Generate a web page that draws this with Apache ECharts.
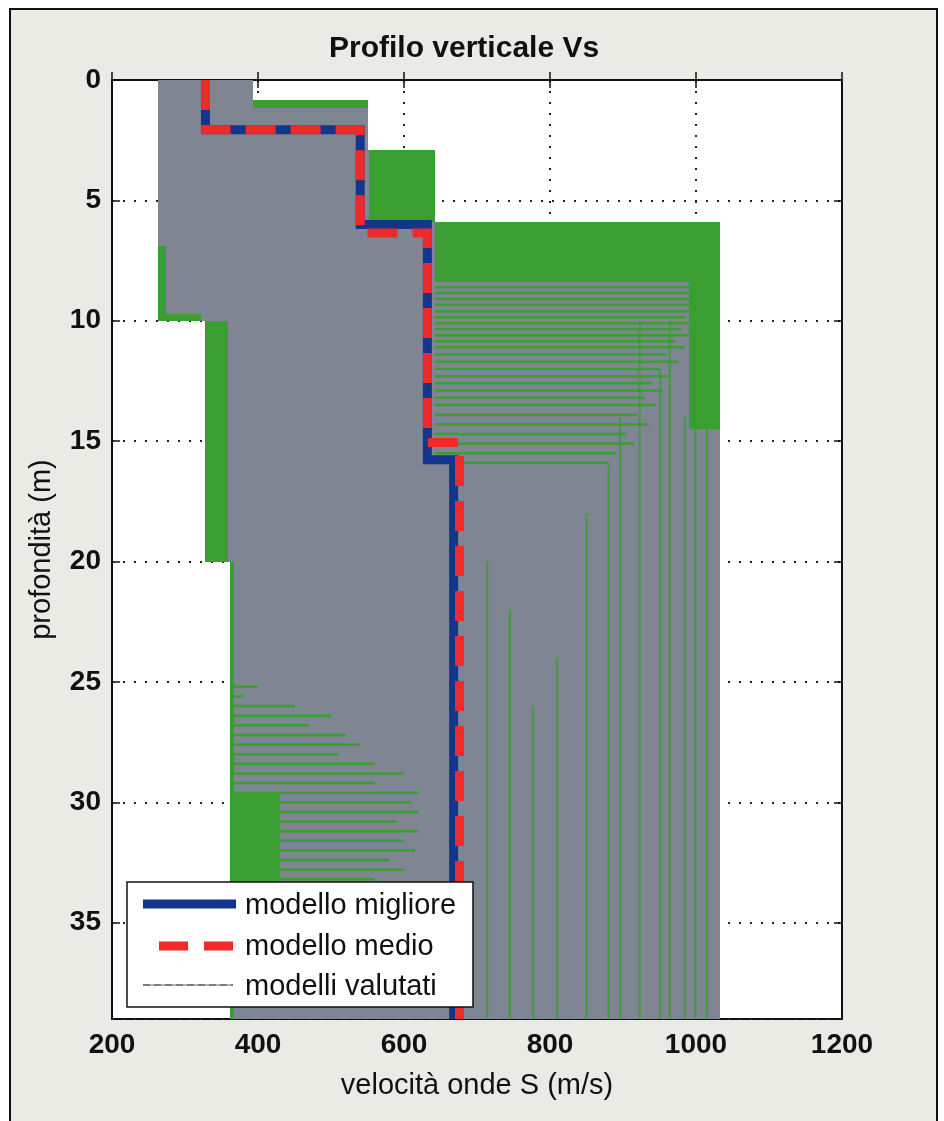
<!DOCTYPE html>
<html>
<head>
<meta charset="utf-8">
<script src="https://cdn.jsdelivr.net/npm/echarts@6/dist/echarts.min.js"></script>
<style>
  html, body { margin: 0; padding: 0; background: #ffffff; }
  #wrap { position: relative; width: 944px; height: 1121px; overflow: hidden; }
  #frame { position: absolute; left: 9px; top: 8px; width: 925px; height: 1200px;
           border: 2px solid #111; background: #ebebe6; }
  #chart { position: absolute; left: 0; top: 0; width: 944px; height: 1121px; }
</style>
</head>
<body>
<div id="wrap">
  <div id="frame"></div>
  <div id="chart"></div>
</div>
<script>
// Best-fit model (step profile): Vs (m/s) against depth (m)
const bestDepth = [0, 2.07, 2.07, 6.0, 6.0, 15.77, 15.77, 39];
const bestVs    = [328, 328, 540, 540, 632, 632, 668, 668];

// Mean model (step profile)
const meanDepth = [0, 2.07, 2.07, 6.35, 6.35, 15.06, 15.06, 39];
const meanVs    = [328, 328, 540, 540, 632, 632, 676, 676];

// Range covered by the evaluated models, layer by layer
const envTop    = [0, 0.85, 2.9, 5.9, 10, 20];
const envBottom = [0.85, 2.9, 5.9, 10, 20, 39];
const envMin    = [263, 263, 263, 263, 327, 362];
const envMax    = [393, 551, 642, 1033, 1033, 1033];

// Zones where the evaluated profiles pile up densely
const denseTop    = [0.85, 2.9, 5.9, 8.4, 6.9, 9.7, 10, 20, 29.6];
const denseBottom = [1.15, 5.9, 8.4, 14.5, 10, 10, 20, 39, 33.4];
const denseMin    = [393, 552, 642, 990, 263, 263, 327, 362, 362];
const denseMax    = [551, 642, 1033, 1033, 274, 322, 359, 367, 430];

// Individual horizontal interfaces of evaluated models: depth, Vs from, Vs to
const hLineDepth = [8.6, 8.85, 9.1, 9.35, 9.6, 9.85, 10.1, 10.35, 10.6, 10.85, 11.1, 11.4, 11.7,
                    12.0, 12.3, 12.6, 12.9, 13.2, 13.5, 13.9, 14.3, 14.7, 15.1, 15.5, 15.9,
                    25.2, 25.6, 26.0, 26.4, 26.8, 27.2, 27.6, 28.0, 28.4, 28.8, 29.2,
                    29.6, 30.0, 30.4, 30.8, 31.2, 31.6, 32.0, 32.4, 32.8, 33.2];
const hLineFrom  = [642, 642, 642, 642, 642, 642, 642, 642, 642, 642, 642, 642, 642,
                    642, 642, 642, 642, 642, 642, 642, 642, 642, 642, 642, 642,
                    362, 362, 362, 362, 362, 362, 362, 362, 362, 362, 362,
                    362, 362, 362, 362, 362, 362, 362, 362, 362, 362];
const hLineTo    = [1030, 1000, 1020, 990, 1010, 985, 995, 980, 990, 970, 985, 960, 975,
                    950, 965, 940, 955, 930, 945, 920, 935, 905, 915, 890, 880,
                    400, 380, 450, 500, 470, 520, 540, 510, 560, 600, 560,
                    620, 610, 620, 590, 620, 600, 615, 580, 600, 560];

// Individual half-space velocities of evaluated models: Vs, from depth, to depth
const vLineVs     = [714, 745, 777, 810, 850, 880, 896, 923, 951, 964, 985, 999, 1015];
const vLineTop    = [20, 22, 26, 24, 18, 16, 14, 10, 12, 10, 14, 10, 10];
const vLineBottom = [39, 39, 39, 39, 39, 39, 39, 39, 39, 39, 39, 39, 39];

const velTicks = [200, 400, 600, 800, 1000, 1200];
const depthTicks = [0, 5, 10, 15, 20, 25, 30, 35];

const FONT = '"Liberation Sans", Arial, Helvetica, sans-serif';
const GRAY = '#7f8592';
const GREEN = '#3a9e33';
const BLUE = '#14358c';
const RED = '#ee2a2a';

function zip(a, b) { return a.map((v, i) => [v, b[i]]); }

function blockSeries(name, tops, bottoms, mins, maxs, color, z) {
  return {
    type: 'custom', name: name, z: z, silent: true, clip: true,
    data: tops.map((t, i) => [mins[i], maxs[i], t, bottoms[i]]),
    encode: { x: [0, 1], y: [2, 3] },
    renderItem: function (params, api) {
      const p0 = api.coord([api.value(0), api.value(2)]);
      const p1 = api.coord([api.value(1), api.value(3)]);
      // snap to whole pixels so neighbouring layers join without seams
      const x0 = Math.round(Math.min(p0[0], p1[0]));
      const x1 = Math.round(Math.max(p0[0], p1[0]));
      const y0 = Math.round(Math.min(p0[1], p1[1]));
      const y1 = Math.round(Math.max(p0[1], p1[1]));
      return {
        type: 'rect',
        shape: { x: x0, y: y0, width: x1 - x0, height: y1 - y0 },
        style: { fill: color }
      };
    }
  };
}

const hLines = {
  type: 'custom', name: 'interfaces', z: 4, silent: true, clip: true,
  data: hLineDepth.map((d, i) => [hLineFrom[i], hLineTo[i], d]),
  encode: { x: [0, 1], y: 2 },
  renderItem: function (params, api) {
    const a = api.coord([api.value(0), api.value(2)]);
    const b = api.coord([api.value(1), api.value(2)]);
    return { type: 'line', shape: { x1: a[0], y1: a[1], x2: b[0], y2: b[1] },
             style: { stroke: GREEN, lineWidth: 2.5 } };
  }
};

const vLines = {
  type: 'custom', name: 'halfspace', z: 4, silent: true, clip: true,
  data: vLineVs.map((v, i) => [v, vLineTop[i], vLineBottom[i]]),
  encode: { x: 0, y: [1, 2] },
  renderItem: function (params, api) {
    const a = api.coord([api.value(0), api.value(1)]);
    const b = api.coord([api.value(0), api.value(2)]);
    return { type: 'line', shape: { x1: a[0], y1: a[1], x2: b[0], y2: b[1] },
             style: { stroke: GREEN, lineWidth: 2, opacity: 0.85 } };
  }
};

const chart = echarts.init(document.getElementById('chart'), null, { renderer: 'canvas' });

const tickLabel = { fontFamily: FONT, fontWeight: 'bold', fontSize: 28, color: '#111' };

chart.setOption({
  backgroundColor: 'transparent',
  animation: false,
  title: {
    text: 'Profilo verticale Vs',
    left: 324, top: 29,
    textStyle: { fontFamily: FONT, fontWeight: 'bold', fontSize: 30, color: '#111' }
  },
  grid: {
    left: 112, right: 102, top: 80, bottom: 102,
    show: true, backgroundColor: '#ffffff', borderColor: '#111', borderWidth: 2
  },
  xAxis: [{
    type: 'value', min: velTicks[0], max: velTicks[velTicks.length - 1], interval: 200,
    position: 'bottom',
    name: 'velocità onde S (m/s)', nameLocation: 'middle', nameGap: 52,
    nameTextStyle: { fontFamily: FONT, fontSize: 29, color: '#111' },
    axisLine: { show: true, lineStyle: { color: '#111', width: 2 } },
    axisTick: { show: true, inside: true, length: 8, lineStyle: { color: '#111', width: 1.5 } },
    axisLabel: Object.assign({
      margin: 12,
      formatter: function (v) { return velTicks.indexOf(v) >= 0 ? String(v) : ''; }
    }, tickLabel),
    splitLine: { show: true, lineStyle: { color: '#222', width: 2, type: [2, 9] } }
  }, {
    type: 'value', min: velTicks[0], max: velTicks[velTicks.length - 1], interval: 200,
    position: 'top',
    axisLine: { show: true, lineStyle: { color: '#111', width: 2 } },
    axisTick: { show: true, inside: true, length: 8, lineStyle: { color: '#111', width: 1.5 } },
    axisLabel: { show: false }, splitLine: { show: false }
  }],
  yAxis: [{
    type: 'value', inverse: true, min: depthTicks[0], max: 39, interval: 5,
    position: 'left',
    name: 'profondità (m)', nameLocation: 'middle', nameGap: 56,
    nameTextStyle: { fontFamily: FONT, fontSize: 29, color: '#111' },
    axisLine: { show: true, lineStyle: { color: '#111', width: 2 } },
    axisTick: { show: true, inside: true, length: 8, lineStyle: { color: '#111', width: 1.5 } },
    axisLabel: Object.assign({
      margin: 11,
      formatter: function (v) { return depthTicks.indexOf(v) >= 0 ? String(v) : ''; }
    }, tickLabel),
    splitLine: { show: true, lineStyle: { color: '#222', width: 2, type: [2, 9] } }
  }, {
    type: 'value', inverse: true, min: depthTicks[0], max: 39, interval: 5,
    position: 'right',
    axisLine: { show: true, lineStyle: { color: '#111', width: 2 } },
    axisTick: { show: true, inside: true, length: 8, lineStyle: { color: '#111', width: 1.5 } },
    axisLabel: { show: false }, splitLine: { show: false }
  }],
  series: [
    blockSeries('modelli valutati', envTop, envBottom, envMin, envMax, GRAY, 2),
    blockSeries('addensamento', denseTop, denseBottom, denseMin, denseMax, GREEN, 3),
    hLines,
    vLines,
    {
      type: 'line', name: 'modello migliore', z: 6, silent: true,
      data: zip(bestVs, bestDepth), symbol: 'none',
      lineStyle: { color: BLUE, width: 9, cap: 'butt', join: 'miter' }
    },
    {
      type: 'line', name: 'modello medio', z: 7, silent: true,
      data: zip(meanVs, meanDepth), symbol: 'none',
      lineStyle: { color: RED, width: 9, type: [30, 15], cap: 'butt', join: 'miter' }
    }
  ],
  graphic: [
    { type: 'rect', z: 100, shape: { x: 127, y: 882, width: 346, height: 125 },
      style: { fill: '#ffffff', stroke: '#111', lineWidth: 1.5 } },
    { type: 'line', z: 101, shape: { x1: 143, y1: 904, x2: 236, y2: 904 },
      style: { stroke: BLUE, lineWidth: 9 } },
    { type: 'line', z: 101, shape: { x1: 159, y1: 946, x2: 233, y2: 946 },
      style: { stroke: RED, lineWidth: 9, lineDash: [29, 16] } },
    { type: 'line', z: 101, shape: { x1: 143, y1: 985, x2: 233, y2: 985 },
      style: { stroke: '#b0b4bc', lineWidth: 2 } },
    { type: 'line', z: 102, shape: { x1: 143, y1: 985, x2: 233, y2: 985 },
      style: { stroke: '#444', lineWidth: 1, lineDash: [7, 4] } },
    { type: 'text', z: 101, x: 245, y: 906,
      style: { text: 'modello migliore', font: '29px ' + FONT, fill: '#111', verticalAlign: 'middle' } },
    { type: 'text', z: 101, x: 245, y: 947,
      style: { text: 'modello medio', font: '29px ' + FONT, fill: '#111', verticalAlign: 'middle' } },
    { type: 'text', z: 101, x: 245, y: 987,
      style: { text: 'modelli valutati', font: '29px ' + FONT, fill: '#111', verticalAlign: 'middle' } }
  ]
});
</script>
</body>
</html>
